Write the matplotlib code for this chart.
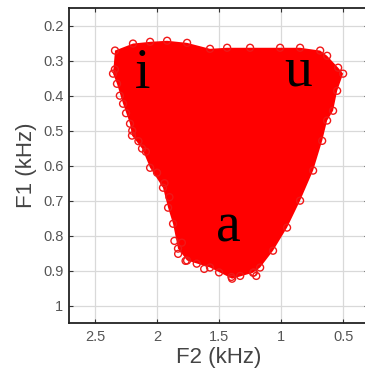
import matplotlib
matplotlib.use("Agg")
import matplotlib.pyplot as plt

# outline of the point cloud (F2, F1 in kHz)
f2_edge = [2.339, 2.194, 2.056, 1.919, 1.758, 1.573, 1.435, 1.25, 1.008, 0.847,
           0.685, 0.629, 0.540, 0.500, 0.548, 0.581, 0.629, 0.669, 0.742, 0.847,
           0.952, 1.065, 1.169, 1.226, 1.395, 1.573, 1.758, 1.831, 1.871, 1.911,
           1.952, 2.056, 2.121, 2.202, 2.218, 2.274, 2.323, 2.355]
f1_edge = [0.271, 0.251, 0.246, 0.243, 0.249, 0.266, 0.263, 0.263, 0.263, 0.263,
           0.271, 0.286, 0.320, 0.337, 0.386, 0.443, 0.471, 0.529, 0.614, 0.700,
           0.777, 0.843, 0.891, 0.906, 0.923, 0.891, 0.871, 0.837, 0.766, 0.720,
           0.663, 0.606, 0.551, 0.514, 0.480, 0.423, 0.366, 0.337]

# loose tokens visible outside the dense core
f2_loose = [1.77, 1.83, 1.86, 1.62, 1.50, 1.40, 1.22, 1.20, 2.20, 2.15, 2.09, 2.00,
            2.30, 2.34, 1.90, 1.94, 2.25, 1.80, 1.68, 1.33]
f1_loose = [0.872, 0.852, 0.815, 0.895, 0.905, 0.918, 0.905, 0.915, 0.500, 0.530,
            0.560, 0.620, 0.400, 0.325, 0.690, 0.650, 0.450, 0.820, 0.880, 0.915]

vowels = ['i', 'u', 'a']
vowel_f2 = [2.12, 0.865, 1.425]
vowel_f1 = [0.378, 0.371, 0.816]

fig = plt.figure(figsize=(3.65, 3.74), dpi=100)
ax = fig.add_axes([0.189, 0.136, 0.819, 0.842])

ax.fill(f2_edge, f1_edge, color='#ff0000', lw=0, zorder=2)
ax.scatter(f2_edge, f1_edge, s=25, facecolors='none', edgecolors='#f01818',
           linewidths=1.0, zorder=3)
ax.scatter(f2_loose, f1_loose, s=25, facecolors='none', edgecolors='#f01818',
           linewidths=1.0, zorder=3)

for v, x, y in zip(vowels, vowel_f2, vowel_f1):
    ax.text(x, y, v, ha='center', va='baseline', fontsize=40,
            family='Liberation Serif', color='black', zorder=4)

ax.set_xlim(2.71, 0.3)
ax.set_ylim(1.05, 0.15)
ax.set_xticks([2.5, 2, 1.5, 1, 0.5])
ax.set_xticklabels(['2.5', '2', '1.5', '1', '0.5'])
ax.set_yticks([0.2, 0.3, 0.4, 0.5, 0.6, 0.7, 0.8, 0.9, 1])
ax.set_yticklabels(['0.2', '0.3', '0.4', '0.5', '0.6', '0.7', '0.8', '0.9', '1'])
ax.grid(True, color='#d9d9d9', lw=0.9, zorder=0)
ax.set_axisbelow(True)
ax.tick_params(direction='in', length=3, width=0.8, colors='#333333',
               labelcolor='#555555', labelsize=10.5, top=True, right=True)
ax.tick_params(axis='x', pad=5)
ax.tick_params(axis='y', pad=4)
for lab in ax.get_xticklabels() + ax.get_yticklabels():
    lab.set_family('Liberation Sans')
for s in ax.spines.values():
    s.set_linewidth(1.3)
    s.set_color('#222222')

ax.set_xlabel('F2 (kHz)', fontsize=16, family='Liberation Sans', color='#444444', labelpad=2)
ax.set_ylabel('F1 (kHz)', fontsize=16, family='Liberation Sans', color='#444444', labelpad=4)

fig.savefig('out.png', dpi=100)
